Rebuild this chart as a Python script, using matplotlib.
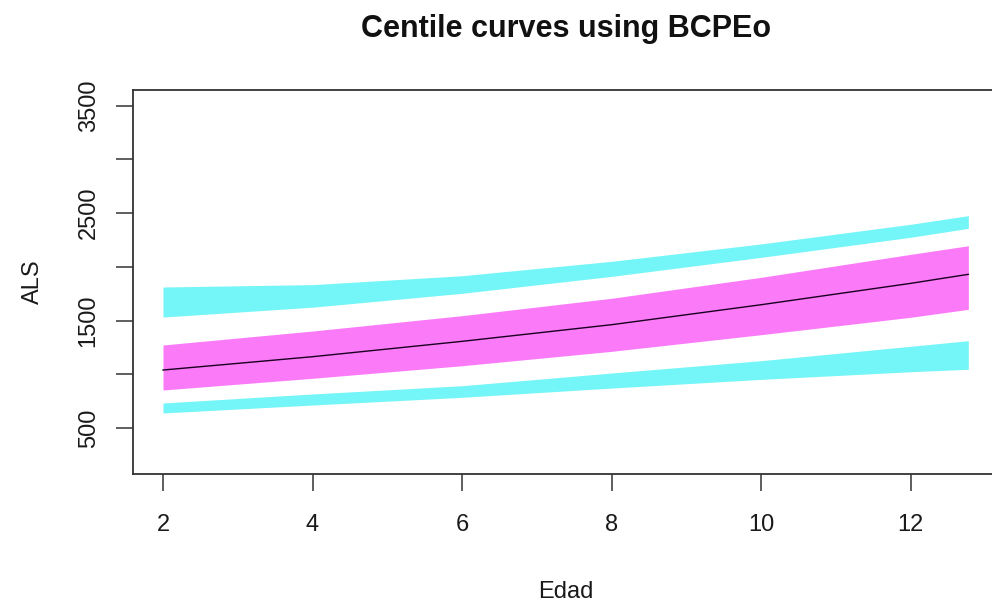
import matplotlib
matplotlib.use("Agg")
import matplotlib.pyplot as plt

plt.rcParams['font.family'] = ['Liberation Sans', 'DejaVu Sans']

# Age (Edad) grid and centile-band boundaries
edad = [2, 4, 6, 8, 10, 12, 12.77]
upper_outer_top = [1813, 1835, 1918, 2052, 2214, 2397, 2477]
upper_outer_bot = [1533, 1625, 1754, 1912, 2089, 2276, 2359]
inner_top = [1273, 1403, 1546, 1708, 1903, 2117, 2197]
median = [1040, 1164, 1307, 1462, 1648, 1847, 1931]
inner_bot = [854, 963, 1080, 1214, 1369, 1531, 1605]
lower_outer_top = [733, 817, 894, 1012, 1127, 1261, 1313]
lower_outer_bot = [640, 714, 786, 872, 953, 1024, 1047]

x_ticks = [2, 4, 6, 8, 10, 12]
y_ticks = [500, 1000, 1500, 2000, 2500, 3000, 3500]
y_tick_labels = ['500', '', '1500', '', '2500', '', '3500']

title = 'Centile curves using BCPEo'
xlabel = 'Edad'
ylabel = 'ALS'

cyan = '#74F5F8'
magenta = '#FA7AF8'

fig = plt.figure(figsize=(9.92, 6.01), dpi=100)
ax = fig.add_axes([133/992, 127/601, 866/992, 384/601])

ax.fill_between(edad, upper_outer_bot, upper_outer_top, color=cyan, lw=0)
ax.fill_between(edad, inner_bot, inner_top, color=magenta, lw=0)
ax.fill_between(edad, lower_outer_bot, lower_outer_top, color=cyan, lw=0)
ax.plot(edad, median, color='#1a0020', lw=1.0)

ax.set_xlim(1.599, 13.18)
ax.set_ylim(72, 3647)

ax.set_xticks(x_ticks)
ax.set_xticklabels([str(v) for v in x_ticks])
ax.set_yticks(y_ticks)
ax.set_yticklabels(y_tick_labels, rotation=90, va='center')

for s in ax.spines.values():
    s.set_color('#333333')
    s.set_linewidth(1.3)

ax.tick_params(axis='both', direction='out', length=12, width=1.1,
               color='#333333', labelsize=17, labelcolor='#1a1a1a')
ax.tick_params(axis='x', pad=17)
ax.tick_params(axis='y', pad=12)

ax.set_title(title, fontsize=22, fontweight='bold', pad=38, color='#111111')
ax.set_xlabel(xlabel, fontsize=17, labelpad=32, color='#1a1a1a')
ax.set_ylabel(ylabel, fontsize=17, labelpad=24, color='#1a1a1a')

fig.savefig('out.png', dpi=100)
